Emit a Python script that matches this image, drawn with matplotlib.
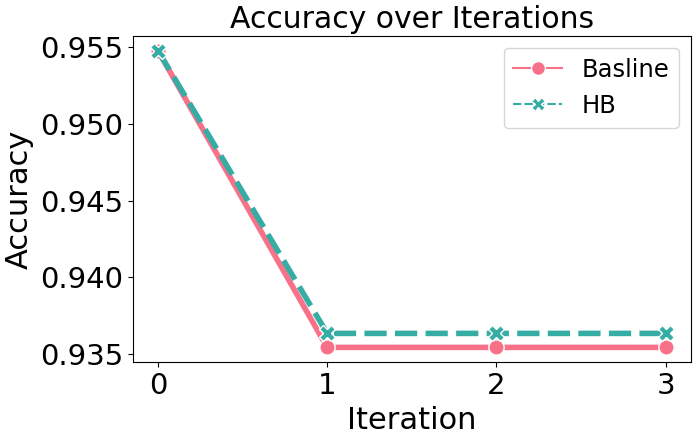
import matplotlib
matplotlib.use("Agg")
import matplotlib.pyplot as plt
from matplotlib.lines import Line2D

iterations = [0, 1, 2, 3]
baseline = [0.95474, 0.93545, 0.93545, 0.93545]
hb = [0.95474, 0.93636, 0.93636, 0.93636]

pink = "#f77189"
teal = "#36ada4"

fig, ax = plt.subplots(figsize=(6.98, 4.38), dpi=100)
ax.plot(iterations, baseline, color=pink, linewidth=4, marker="o", markersize=11,
        markeredgecolor="white", markeredgewidth=1)
ax.plot(iterations, hb, color=teal, linewidth=4, linestyle=(0, (4, 1.5)), marker="X",
        markersize=12, markeredgecolor="white", markeredgewidth=1)

ax.set_xticks(iterations)
ax.set_yticks([0.935, 0.940, 0.945, 0.950, 0.955])
ax.set_yticklabels(["0.935", "0.940", "0.945", "0.950", "0.955"])
ax.tick_params(labelsize=21)
ax.set_xlabel("Iteration", fontsize=22)
ax.set_ylabel("Accuracy", fontsize=22)
ax.set_title("Accuracy over Iterations", fontsize=21.5)

handles = [
    Line2D([], [], color=pink, linewidth=1.5, marker="o", markersize=10,
           markeredgecolor="white", markeredgewidth=1),
    Line2D([], [], color=teal, linewidth=1.5, linestyle=(0, (4, 1.5)), marker="X",
           markersize=10, markeredgecolor="white", markeredgewidth=1),
]
ax.legend(handles, ["Basline", "HB"], fontsize=17.5, loc="upper right")

fig.subplots_adjust(left=0.19, right=0.99, top=0.918, bottom=0.173)
fig.savefig("out.png", dpi=100)
